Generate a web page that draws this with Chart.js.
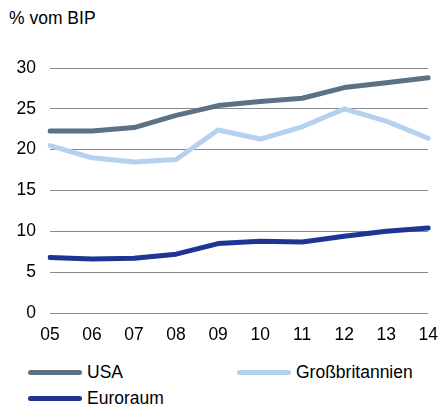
<!DOCTYPE html>
<html><head><meta charset="utf-8">
<script src="https://cdn.jsdelivr.net/npm/chart.js@4/dist/chart.umd.min.js"></script>
<style>
html,body{margin:0;padding:0;background:#fff;}
body{width:438px;height:407px;position:relative;overflow:hidden;font-family:"Liberation Sans",Arial,sans-serif;color:#000;}
#title{position:absolute;left:9px;top:8px;font-size:17.5px;}
#wrap{position:absolute;left:0;top:0;width:438px;height:350px;}
.leg{position:absolute;font-size:17.5px;display:flex;align-items:center;}
.sw{display:inline-block;width:54px;height:5px;border-radius:3px;margin-right:5px;}
</style></head><body>
<div id="title">% vom BIP</div>
<div id="wrap"><canvas id="c" width="438" height="350"></canvas></div>
<div id="legend"></div>
<script>
const years = ["05","06","07","08","09","10","11","12","13","14"];
const seriesNames = ["USA","Großbritannien","Euroraum"];
const usa = [22.3,22.3,22.7,24.2,25.4,25.9,26.3,27.6,28.2,28.8];
const gb = [20.5,19.0,18.5,18.8,22.4,21.3,22.8,25.0,23.5,21.4];
const euro = [6.8,6.6,6.7,7.2,8.5,8.8,8.7,9.4,10.0,10.4];
const colors = ["#5d7185","#b4d2f0","#1e3593"];
const yTicks = [0,5,10,15,20,25,30];

const font = {family:"'Liberation Sans', Arial, sans-serif", size:17.5};
const data = {labels: years, datasets: [usa,gb,euro].map((d,i)=>({
  label: seriesNames[i], data: d, borderColor: colors[i], backgroundColor: colors[i],
  borderWidth: 5, pointRadius: 0, tension: 0, borderJoinStyle:'round', borderCapStyle:'round', fill:false
}))};
new Chart(document.getElementById('c'), {
  type:'line', data,
  options:{
    responsive:false, animation:false, devicePixelRatio:1,
    layout:{padding:{top:68,right:0,left:0,bottom:0}},
    plugins:{legend:{display:false},tooltip:{enabled:false}},
    scales:{
      x:{offset:false, grid:{display:true,color:'rgba(0,0,0,0)',drawOnChartArea:false,drawTicks:true,tickLength:12}, border:{display:false},
         ticks:{color:'#000',font,padding:0,maxRotation:0,autoSkip:false},
         afterFit(s){s.height=37;}},
      y:{min:0,max:30, grid:{color:'#8a8a8a',lineWidth:1,drawTicks:false}, border:{display:false},
         afterBuildTicks(s){s.ticks=yTicks.map(v=>({value:v}));},
         ticks:{color:'#000',font,padding:14},
         afterFit(s){s.width=50;}}
    }
  }
});
const legPos=[[28,362],[237,362],[28,388]];
const leg=document.getElementById('legend');
seriesNames.forEach((n,i)=>{
  const d=document.createElement('div');d.className='leg';
  d.style.left=legPos[i][0]+'px';d.style.top=legPos[i][1]+'px';
  d.innerHTML='<span class="sw" style="background:'+colors[i]+'"></span>'+n;
  leg.appendChild(d);
});
</script>
</body></html>
